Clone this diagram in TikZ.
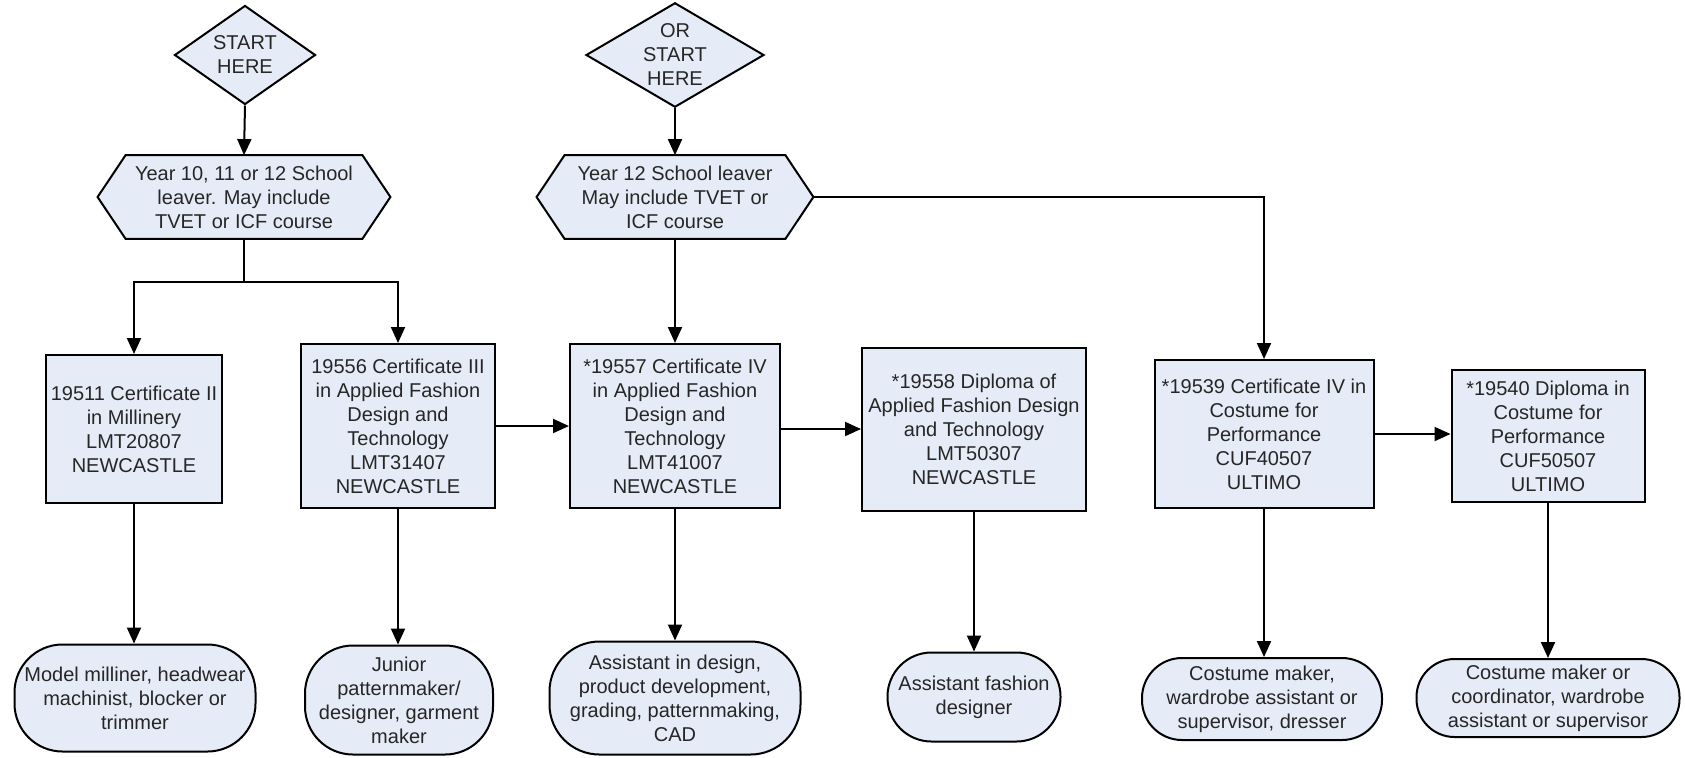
\documentclass[tikz,border=0pt]{standalone}
\usepackage{fontspec}
\setmainfont{Liberation Sans}
\usetikzlibrary{shapes.geometric,arrows.meta,backgrounds,calc}
\definecolor{boxfill}{RGB}{230,236,247}
\definecolor{txt}{RGB}{38,38,38}
\begin{document}
\begin{tikzpicture}[x=0.5pt,y=-0.5pt,
  base/.style={draw=black, line width=1pt, fill=boxfill, text=txt,
    font=\fontsize{10}{12}\selectfont, align=center, inner sep=0pt},
  diam/.style={base, diamond, aspect=1.5},
  boxn/.style={base, rectangle},
  oval/.style={base, rectangle, rounded corners=19pt},
  hexn/.style={rectangle, text=txt, font=\fontsize{10}{12}\selectfont, align=center, inner sep=0pt},
  hexdraw/.style={draw=black, line width=1pt, fill=boxfill},
  conn/.style={line width=1pt},
  arr/.style={line width=1pt, -{Triangle[length=8pt,width=7pt]}}]
\useasboundingbox (0,0) rectangle (1685,757);

% start diamonds
\node[diam, minimum width=70.5pt, minimum height=49.5pt] (d1) at (245,55) {START\\HERE};
\node[diam, minimum width=89pt, minimum height=49.5pt] (d2) at (675,55) {OR\\START\\HERE};

% hexagons
\node[hexn, minimum width=146pt, minimum height=41.5pt] (h1) at (244,197) {Year 10, 11 or 12 School\\leaver. May include\\TVET or ICF course};
\node[hexn, minimum width=138pt, minimum height=41.5pt] (h2) at (675,197) {Year 12 School leaver\\May include TVET or\\ICF course};
\begin{scope}[on background layer]
\foreach \n in {h1,h2}
  \filldraw[hexdraw] (\n.west) -- ([xshift=14pt]\n.north west) -- ([xshift=-14pt]\n.north east)
    -- (\n.east) -- ([xshift=-14pt]\n.south east) -- ([xshift=14pt]\n.south west) -- cycle;
\end{scope}

% qualification boxes
\node[boxn, minimum width=88pt, minimum height=74pt] (b1) at (134,429) {19511 Certificate II\\in Millinery\\LMT20807\\NEWCASTLE};
\node[boxn, minimum width=97pt, minimum height=82pt] (b2) at (398,426) {19556 Certificate III\\in Applied Fashion\\Design and\\Technology\\LMT31407\\NEWCASTLE};
\node[boxn, minimum width=105pt, minimum height=82pt] (b3) at (675,426) {*19557 Certificate IV\\in Applied Fashion\\Design and\\Technology\\LMT41007\\NEWCASTLE};
\node[boxn, minimum width=112pt, minimum height=81.5pt] (b4) at (974,429) {*19558 Diploma of\\Applied Fashion Design\\and Technology\\LMT50307\\NEWCASTLE};
\node[boxn, minimum width=109.5pt, minimum height=74pt] (b5) at (1264,434) {*19539 Certificate IV in\\Costume for\\Performance\\CUF40507\\ULTIMO};
\node[boxn, minimum width=96.5pt, minimum height=66pt] (b6) at (1548,436) {*19540 Diploma in\\Costume for\\Performance\\CUF50507\\ULTIMO};

% outcome ovals
\node[oval, rounded corners=24pt, minimum width=120.5pt, minimum height=53.5pt] (o1) at (135,698) {Model milliner, headwear\\machinist, blocker or\\trimmer};
\node[oval, rounded corners=24pt, minimum width=94pt, minimum height=54.5pt] (o2) at (399,700) {Junior\\patternmaker/\\designer, garment\\maker};
\node[oval, rounded corners=25pt, minimum width=125.5pt, minimum height=56.5pt] (o3) at (675,698) {Assistant in design,\\product development,\\grading, patternmaking,\\CAD};
\node[oval, rounded corners=22pt, minimum width=86.5pt, minimum height=44.5pt] (o4) at (974,697) {Assistant fashion\\designer};
\node[oval, rounded corners=20pt, minimum width=120pt, minimum height=41pt] (o5) at (1262,699) {Costume maker,\\wardrobe assistant or\\supervisor, dresser};
\node[oval, rounded corners=19pt, minimum width=131.5pt, minimum height=39pt] (o6) at (1548,698) {Costume maker or\\coordinator, wardrobe\\assistant or supervisor};

% connectors
\coordinate (j1) at (244,282);
\draw[arr] (d1.south) -- (h1.north);
\draw[arr] (d2.south) -- (h2.north);
\draw[conn] (h1.south) -- (j1);
\draw[arr] (j1) -| (b1.north);
\draw[arr] (j1) -| (b2.north);
\draw[arr] (h2.south) -- (b3.north);
\draw[arr] (h2.east) -| (b5.north);
\draw[arr] (b2.east) -- (b2.east -| b3.west);
\draw[arr] (b3.east |- b4.west) -- (b4.west);
\draw[arr] (b5.east) -- (b5.east -| b6.west);
\foreach \i in {1,...,6}
  \draw[arr] (b\i.south) -- (b\i.south |- o\i.north);
\end{tikzpicture}
\end{document}
